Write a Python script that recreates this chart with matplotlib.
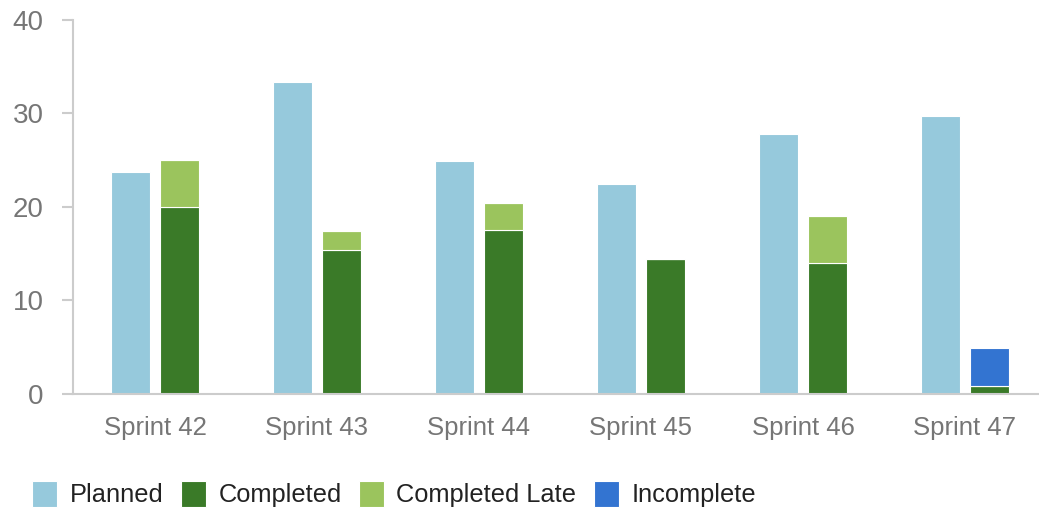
import matplotlib.pyplot as plt
import numpy as np

plt.rcParams['font.family'] = ['Liberation Sans', 'DejaVu Sans']

# 数据
sprints = ['Sprint 42', 'Sprint 43', 'Sprint 44', 'Sprint 45', 'Sprint 46', 'Sprint 47']
planned = [23.7, 33.3, 24.9, 22.4, 27.8, 29.7]
completed = [20.0, 15.4, 17.5, 14.4, 14.0, 0.9]
completed_late = [5.0, 2.0, 2.9, 0, 5.0, 0]
incomplete = [0, 0, 0, 0, 0, 4.0]

COLORS = {
    'Planned': '#96c9dc',
    'Completed': '#3a7a28',
    'Completed Late': '#9bc45d',
    'Incomplete': '#3374d1',
}
TEXT_GREY = '#767676'
AXIS_GREY = '#cccccc'

fig = plt.figure(figsize=(10.39, 5.14), dpi=100)
ax = fig.add_axes([73 / 1039, 120 / 514, 1 - 73 / 1039, 374.5 / 514])

x = np.arange(len(sprints))
w = 0.24
off = 0.151

ax.bar(x - off, planned, w, color=COLORS['Planned'], edgecolor='white', linewidth=0.8, label='Planned')
ax.bar(x + off, completed, w, color=COLORS['Completed'], edgecolor='white', linewidth=0.8, label='Completed')
bottom = np.array(completed)
ax.bar(x + off, completed_late, w, bottom=bottom, color=COLORS['Completed Late'],
       edgecolor='white', linewidth=0.8, label='Completed Late')
bottom = bottom + np.array(completed_late)
ax.bar(x + off, incomplete, w, bottom=bottom, color=COLORS['Incomplete'],
       edgecolor='white', linewidth=0.8, label='Incomplete')

ax.set_xlim(-0.506, 5.457)
ax.set_ylim(0, 40)
ax.set_yticks([0, 10, 20, 30, 40])
ax.set_xticks(x)
ax.set_xticklabels(sprints)

for s in ['top', 'right']:
    ax.spines[s].set_visible(False)
for s in ['left', 'bottom']:
    ax.spines[s].set_color(AXIS_GREY)
    ax.spines[s].set_linewidth(1.5)

ax.tick_params(axis='y', colors=AXIS_GREY, length=8, width=1.5, pad=13,
               labelcolor=TEXT_GREY, labelsize=20)
ax.tick_params(axis='x', length=0, pad=16, labelcolor=TEXT_GREY, labelsize=18.5)

fig.legend(loc='center left', bbox_to_anchor=(32 / 1039, 20 / 514), ncol=4, frameon=False,
           fontsize=18.3, labelcolor='#222222', handlelength=1.0, handleheight=1.25,
           handletextpad=0.48, columnspacing=0.68, borderaxespad=0, borderpad=0)

plt.savefig('out.png', dpi=100)
